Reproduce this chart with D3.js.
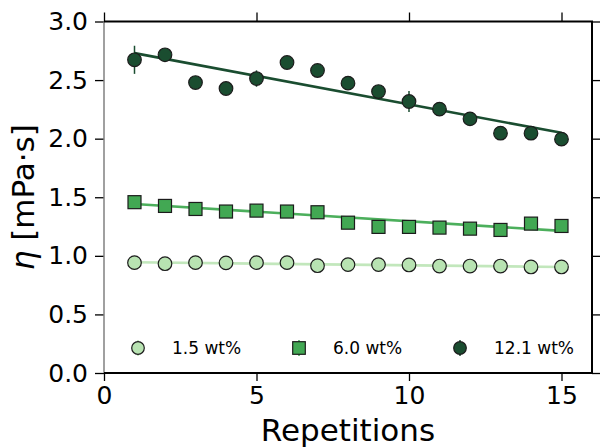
<!DOCTYPE html>
<html>
<head>
<meta charset="utf-8">
<script src="https://cdn.jsdelivr.net/npm/d3@7"></script>
<style>
  body { margin: 0; background: #fff; }
  svg text { font-family: "DejaVu Sans", sans-serif; }
</style>
</head>
<body>
<div id="chart"></div>
<script>
// data
const repetitions = [1, 2, 3, 4, 5, 6, 7, 8, 9, 10, 11, 12, 13, 14, 15]
const eta15 = [0.942, 0.933, 0.942, 0.940, 0.942, 0.942, 0.916, 0.925, 0.925, 0.922, 0.913, 0.913, 0.913, 0.905, 0.905]
const eta60 = [1.458, 1.426, 1.400, 1.378, 1.386, 1.378, 1.372, 1.283, 1.247, 1.247, 1.241, 1.232, 1.221, 1.275, 1.255]
const eta121 = [2.673, 2.716, 2.479, 2.428, 2.513, 2.650, 2.582, 2.474, 2.402, 2.317, 2.252, 2.169, 2.047, 2.047, 1.996]
const err121 = [0.12, 0.03, 0.03, 0.03, 0.07, 0.03, 0.03, 0.03, 0.03, 0.09, 0.03, 0.03, 0.03, 0.03, 0.03]
// linear fits, value at first and last repetition
const fitX = [1, 15]
const fit15 = [0.945, 0.905]
const fit60 = [1.443, 1.213]
const fit121 = [2.73, 2.05]
const seriesLabels = ['1.5 wt%', '6.0 wt%', '12.1 wt%']
const xTicks = [0, 5, 10, 15]
const yTicks = [0, 0.5, 1.0, 1.5, 2.0, 2.5, 3.0]

const width = 600
const height = 448
const margin = {top: 21.5, right: 8, bottom: 75, left: 104}

const svg = d3.select('#chart').append('svg')
  .attr('width', width)
  .attr('height', height)

const x = d3.scaleLinear().domain([0, 16]).range([margin.left, width - margin.right])
const y = d3.scaleLinear().domain([0, 3]).range([height - margin.bottom, margin.top])

const LIGHT = '#b8e3b2'
const MID = '#42a853'
const DARK = '#1a4d30'

const series = [
  {label: seriesLabels[0], values: eta15, fit: fit15, color: LIGHT, line: '#c2e7bc', shape: 'circle'},
  {label: seriesLabels[1], values: eta60, fit: fit60, color: MID, line: '#4caf5c', shape: 'square'},
  {label: seriesLabels[2], values: eta121, fit: fit121, color: DARK, line: DARK, shape: 'circle', err: err121}
]

// axes
const fmt = d3.format('.1f')
const tickStyle = g => {
  g.select('.domain').remove()
  g.selectAll('.tick line').attr('stroke', '#000').attr('stroke-width', 1.3)
  g.selectAll('.tick text').attr('font-size', 25).attr('fill', '#000')
}
svg.append('g')
  .attr('transform', `translate(0,${y(0)})`)
  .call(d3.axisBottom(x).tickValues(xTicks).tickSize(8).tickPadding(5))
  .call(tickStyle)
svg.append('g')
  .attr('transform', `translate(0,${y(3)})`)
  .call(d3.axisTop(x).tickValues(xTicks).tickSize(9).tickFormat(''))
  .call(tickStyle)
svg.append('g')
  .attr('transform', `translate(${x(0)},0)`)
  .call(d3.axisLeft(y).tickValues(yTicks).tickFormat(fmt).tickSize(9).tickPadding(7))
  .call(tickStyle)
svg.append('g')
  .attr('transform', `translate(${x(16)},0)`)
  .call(d3.axisRight(y).tickValues(yTicks).tickSize(8).tickFormat(''))
  .call(tickStyle)

// spines
svg.append('line')
  .attr('x1', x(0)).attr('x2', x(0)).attr('y1', y(0)).attr('y2', y(3))
  .attr('stroke', '#808080').attr('stroke-width', 1.5)
svg.append('path')
  .attr('d', `M${x(0)},${y(3)}H${x(16)}V${y(0)}H${x(0)}`)
  .attr('fill', 'none').attr('stroke', '#000').attr('stroke-width', 2)

// fit lines
series.forEach(s => {
  svg.append('line')
    .attr('x1', x(fitX[0])).attr('x2', x(fitX[1]))
    .attr('y1', y(s.fit[0])).attr('y2', y(s.fit[1]))
    .attr('stroke', s.line).attr('stroke-width', 2.6)
})

const drawMarker = (g, s, cx, cy, r) => {
  if (s.shape === 'square') {
    g.append('rect')
      .attr('x', cx - r).attr('y', cy - r)
      .attr('width', 2 * r).attr('height', 2 * r)
      .attr('fill', s.color).attr('stroke', '#1c1c1c').attr('stroke-width', 1.2)
  } else {
    g.append('circle')
      .attr('cx', cx).attr('cy', cy).attr('r', r)
      .attr('fill', s.color).attr('stroke', '#1c1c1c').attr('stroke-width', 1.2)
  }
}

// error bars and markers
series.forEach(s => {
  const g = svg.append('g')
  if (s.err) {
    g.selectAll('line.err')
      .data(repetitions)
      .join('line')
      .attr('class', 'err')
      .attr('x1', d => x(d)).attr('x2', d => x(d))
      .attr('y1', (d, i) => y(s.values[i] - s.err[i]))
      .attr('y2', (d, i) => y(s.values[i] + s.err[i]))
      .attr('stroke', s.color).attr('stroke-width', 1.5)
  }
  repetitions.forEach((d, i) => {
    drawMarker(g, s, x(d), y(s.values[i]), s.shape === 'square' ? 6.5 : 6.8)
  })
})

// legend
const legendX = [138, 299, 460]
const legendY = 348
series.forEach((s, i) => {
  const g = svg.append('g')
  g.append('line')
    .attr('x1', legendX[i]).attr('x2', legendX[i])
    .attr('y1', legendY - 8).attr('y2', legendY + 8)
    .attr('stroke', s.color).attr('stroke-width', 1.5)
  drawMarker(g, s, legendX[i], legendY, 6.3)
  g.append('text')
    .attr('x', legendX[i] + 34).attr('y', legendY)
    .attr('dy', '0.35em')
    .attr('font-size', 17)
    .text(s.label)
})

// axis labels
svg.append('text')
  .attr('x', (x(0) + x(16)) / 2)
  .attr('y', 441)
  .attr('text-anchor', 'middle')
  .attr('font-size', 31)
  .text('Repetitions')

const yl = svg.append('text')
  .attr('transform', `translate(34,${(y(0) + y(3)) / 2}) rotate(-90)`)
  .attr('text-anchor', 'middle')
  .attr('font-size', 31)
yl.append('tspan').attr('font-style', 'italic').text('η')
yl.append('tspan').text(' [mPa·s]')
</script>
</body>
</html>
